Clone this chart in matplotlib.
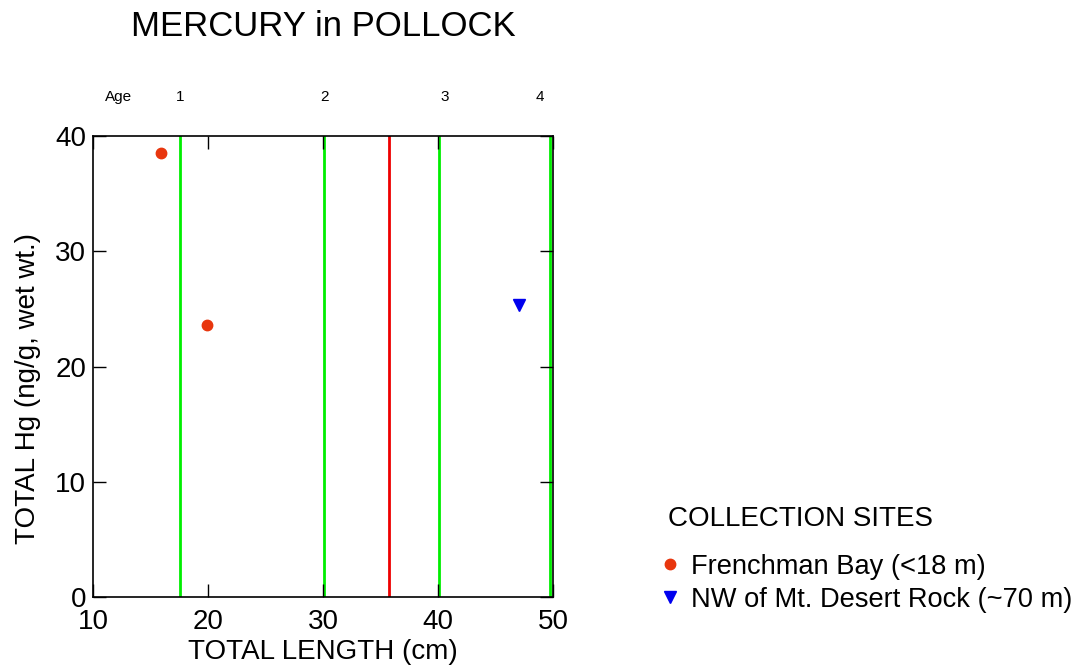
import matplotlib.pyplot as plt
from matplotlib.lines import Line2D

plt.rcParams['font.family'] = ['Liberation Sans', 'DejaVu Sans']

# Mercury measurements (total length in cm, total Hg in ng/g wet wt.)
frenchman_len = [15.9, 19.9]
frenchman_hg = [38.5, 23.6]
desert_rock_len = [47.0]
desert_rock_hg = [25.3]

# Age class boundaries (green) and mean length marker (red)
age_lines = [17.6, 30.1, 40.1, 49.7]
mean_line = 35.7
age_labels = ['Age', '1', '2', '3', '4']
age_label_x = [12.2, 17.6, 30.1, 40.6, 48.9]

site_names = ['Frenchman Bay (<18 m)', 'NW of Mt. Desert Rock (~70 m)']

fig = plt.figure(figsize=(10.78, 6.68), dpi=100)
ax = fig.add_axes([0.0863, 0.1063, 0.4267, 0.690])

for x in age_lines:
    ax.axvline(x, color='#00ee00', linewidth=2, zorder=1)
ax.axvline(mean_line, color='#ee0000', linewidth=2, zorder=1)

ax.plot(frenchman_len, frenchman_hg, 'o', color='#e8360e', markersize=7.5,
        linestyle='none', zorder=3)
ax.plot(desert_rock_len, desert_rock_hg, 'v', color='#0000ee', markersize=8.5,
        linestyle='none', zorder=3)

ax.set_xlim(10, 50)
ax.set_ylim(0, 40)
ax.set_xticks([10, 20, 30, 40, 50])
ax.set_yticks([0, 10, 20, 30, 40])
ax.tick_params(direction='in', length=9.5, width=1, labelsize=20,
               top=True, right=True)
ax.tick_params(axis='x', pad=9)
ax.tick_params(axis='y', pad=5)
for s in ax.spines.values():
    s.set_linewidth(1.2)

for lbl, x in zip(age_labels, age_label_x):
    ax.text(x, 43.4, lbl, ha='center', va='center', fontsize=11)

ax.set_xlabel('TOTAL LENGTH (cm)', fontsize=20, va='center')
ax.xaxis.set_label_coords(0.5, -0.119)
ax.set_ylabel('TOTAL Hg (ng/g, wet wt.)', fontsize=20, va='center', ha='center')
ax.yaxis.set_label_coords(-0.141, 0.453)
fig.text(323 / 1078, 1 - 26 / 668, 'MERCURY in POLLOCK', ha='center',
         va='center', fontsize=25)

# legend
fig.text(668 / 1078, 1 - 519 / 668, 'COLLECTION SITES', ha='left',
         va='center', fontsize=20)
handles = [
    Line2D([], [], marker='o', color='#e8360e', linestyle='none', markersize=7.5),
    Line2D([], [], marker='v', color='#0000ee', linestyle='none', markersize=8.5),
]
fig.legend(handles, site_names, loc='upper left',
           bbox_to_anchor=(656 / 1078, 1 - 554 / 668), frameon=False,
           fontsize=19.6, handletextpad=0.3, handlelength=1.0,
           labelspacing=0.25, borderaxespad=0, borderpad=0)

fig.savefig('out.png', dpi=100)
